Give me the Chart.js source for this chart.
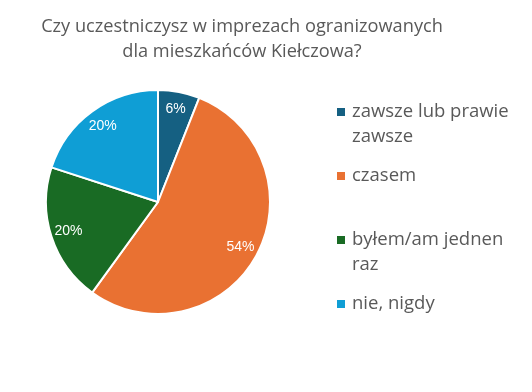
<!DOCTYPE html>
<html>
<head>
<meta charset="utf-8">
<script src="https://cdn.jsdelivr.net/npm/chart.js@4"></script>
<style>
    html, body { margin: 0; padding: 0; background: #fff; }
    #wrap { width: 532px; height: 392px; position: relative; }
</style>
</head>
<body>
<div id="wrap"><canvas id="pieChart" width="532" height="392"></canvas></div>
<script>
// Data
const titleLines = ['Czy uczestniczysz w imprezach ogranizowanych', 'dla mieszkańców Kiełczowa?'];
const categories = ['zawsze lub prawie zawsze', 'czasem', 'byłem/am jednen raz', 'nie, nigdy'];
const shares = [6, 54, 20, 20];
const sliceColors = ['#156082', '#E97132', '#196B24', '#0F9ED5'];

const TEXT_GREY = '#595959';
const FONT = '"Open Sans", "Noto Sans", sans-serif';

// wrap legend text to a max width
function wrapText(ctx, text, maxWidth) {
    const words = text.split(' ');
    const lines = [];
    let line = '';
    words.forEach(w => {
        const test = line ? line + ' ' + w : w;
        if (line && ctx.measureText(test).width > maxWidth) {
            lines.push(line);
            line = w;
        } else {
            line = test;
        }
    });
    if (line) lines.push(line);
    return lines;
}

// title, legend and % labels drawn on top of the pie
const decorPlugin = {
    id: 'decor',
    afterDraw(chart) {
        const ctx = chart.ctx;
        ctx.save();

        // title
        ctx.fillStyle = TEXT_GREY;
        ctx.font = `18.2px ${FONT}`;
        ctx.textAlign = 'center';
        ctx.textBaseline = 'middle';
        titleLines.forEach((t, i) => ctx.fillText(t, 242, 27 + i * 25));

        // percentage labels
        const meta = chart.getDatasetMeta(0);
        const total = shares.reduce((a, b) => a + b, 0);
        ctx.fillStyle = '#ffffff';
        ctx.font = `14px "Liberation Sans", Arial, sans-serif`;
        meta.data.forEach((arc, i) => {
            const mid = (arc.startAngle + arc.endAngle) / 2;
            const r = arc.outerRadius * 0.84;
            const x = arc.x + Math.cos(mid) * r;
            const y = arc.y + Math.sin(mid) * r;
            ctx.fillText(Math.round(shares[i] / total * 100) + '%', x, y);
        });

        // legend
        ctx.font = `18.5px ${FONT}`;
        ctx.textAlign = 'left';
        categories.forEach((label, i) => {
            const top = 112 + i * 64;
            ctx.fillStyle = sliceColors[i];
            ctx.fillRect(337, top - 4, 8, 8);
            ctx.fillStyle = TEXT_GREY;
            wrapText(ctx, label, 168).forEach((ln, j) => {
                ctx.fillText(ln, 352, top + j * 25);
            });
        });

        ctx.restore();
    }
};

new Chart(document.getElementById('pieChart'), {
    type: 'pie',
    data: {
        labels: categories,
        datasets: [{
            data: shares,
            backgroundColor: sliceColors,
            borderColor: '#ffffff',
            borderWidth: 2
        }]
    },
    options: {
        responsive: false,
        animation: false,
        layout: { padding: { top: 89, bottom: 77, left: 0, right: 216 } },
        plugins: {
            legend: { display: false },
            title: { display: false },
            tooltip: { enabled: false }
        }
    },
    plugins: [decorPlugin]
});
</script>
</body>
</html>
